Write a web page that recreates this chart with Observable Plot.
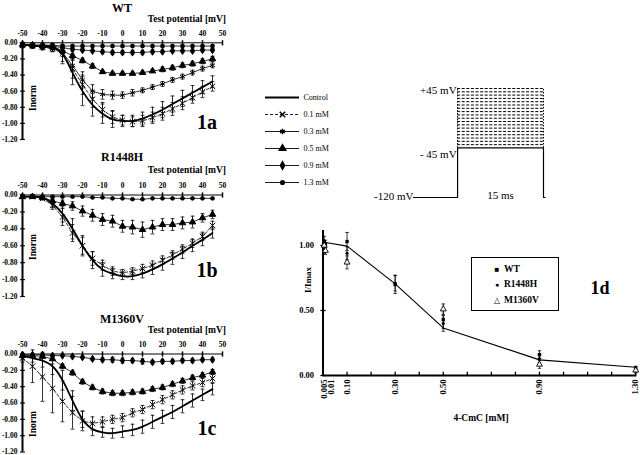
<!DOCTYPE html>
<html><head><meta charset="utf-8">
<script src="https://cdn.jsdelivr.net/npm/d3@7"></script>
<script src="https://cdn.jsdelivr.net/npm/@observablehq/plot@0.6"></script>
<style>
body{margin:0;background:#fff;}
#fig{position:relative;width:640px;height:455px;overflow:hidden;font-family:"Liberation Serif",serif;color:#000;background:#fff;}
#fig svg{position:absolute;overflow:visible;}
.t{position:absolute;white-space:nowrap;line-height:1;}
</style></head><body><div id="fig"></div>
<script>
// ---------- data ----------
const voltages = [-50,-45,-40,-35,-30,-25,-20,-15,-10,-5,0,5,10,15,20,25,30,35,40,45];
const xTicks = [-50,-40,-30,-20,-10,0,10,20,30,40,50];
const yTicks = [0,-0.2,-0.4,-0.6,-0.8,-1.0,-1.2];

// WT (1a)
const wtControl   = [-0.03,-0.03,-0.04,-0.05,-0.14,-0.37,-0.60,-0.77,-0.88,-0.95,-0.97,-0.97,-0.94,-0.89,-0.83,-0.76,-0.69,-0.62,-0.55,-0.48];
const wtControlSE = [0.03,0.03,0.04,0.04,0.12,0.15,0.18,0.14,0.12,0.10,0.07,0.07,0.08,0.09,0.10,0.10,0.10,0.09,0.08,0.07];
const wt01   = [-0.03,-0.04,-0.05,-0.07,-0.13,-0.32,-0.52,-0.70,-0.83,-0.92,-0.96,-0.98,-0.97,-0.93,-0.88,-0.82,-0.75,-0.68,-0.61,-0.54];
const wt01SE = [0.03,0.03,0.04,0.04,0.10,0.12,0.12,0.10,0.09,0.08,0.06,0.06,0.07,0.07,0.08,0.08,0.08,0.07,0.07,0.06];
const wt03   = [-0.03,-0.04,-0.05,-0.07,-0.12,-0.28,-0.46,-0.60,-0.64,-0.65,-0.65,-0.62,-0.59,-0.55,-0.51,-0.46,-0.42,-0.37,-0.32,-0.28];
const wt03SE = [0.02,0.02,0.03,0.04,0.05,0.08,0.10,0.08,0.06,0.05,0.04,0.04,0.03,0.03,0.03,0.03,0.03,0.03,0.03,0.03];
const wt05   = [-0.02,-0.03,-0.04,-0.05,-0.10,-0.16,-0.22,-0.29,-0.36,-0.38,-0.38,-0.38,-0.37,-0.35,-0.33,-0.31,-0.28,-0.26,-0.23,-0.20];
const wt05SE = [0.02,0.02,0.02,0.02,0.03,0.03,0.03,0.03,0.02,0.02,0.02,0.02,0.02,0.02,0.03,0.03,0.03,0.03,0.03,0.03];
const wt09   = [-0.03,-0.03,-0.04,-0.04,-0.06,-0.08,-0.09,-0.10,-0.11,-0.12,-0.12,-0.12,-0.12,-0.11,-0.11,-0.10,-0.10,-0.10,-0.09,-0.09];
const wt09SE = [0.02,0.02,0.02,0.02,0.02,0.02,0.02,0.02,0.02,0.02,0.02,0.02,0.02,0.02,0.02,0.02,0.02,0.02,0.02,0.02];
const wt13   = [-0.03,-0.03,-0.03,-0.03,-0.04,-0.04,-0.04,-0.04,-0.04,-0.04,-0.04,-0.04,-0.04,-0.04,-0.04,-0.04,-0.04,-0.04,-0.04,-0.04];
const wt13SE = [0.02,0.02,0.02,0.02,0.02,0.02,0.02,0.02,0.02,0.02,0.02,0.02,0.02,0.02,0.02,0.02,0.02,0.02,0.02,0.02];

// R1448H (1b)
const rControl   = [-0.02,-0.02,-0.03,-0.10,-0.22,-0.40,-0.60,-0.77,-0.88,-0.93,-0.96,-0.96,-0.93,-0.88,-0.82,-0.75,-0.68,-0.60,-0.53,-0.45];
const rControlSE = [0.02,0.02,0.02,0.05,0.10,0.12,0.12,0.10,0.08,0.06,0.04,0.04,0.05,0.06,0.07,0.07,0.07,0.07,0.07,0.06];
const r01   = [-0.02,-0.02,-0.04,-0.12,-0.26,-0.45,-0.60,-0.75,-0.83,-0.90,-0.92,-0.90,-0.87,-0.83,-0.77,-0.71,-0.64,-0.57,-0.49,-0.36];
const r01SE = [0.02,0.02,0.02,0.05,0.10,0.10,0.10,0.08,0.06,0.05,0.04,0.04,0.05,0.05,0.05,0.05,0.05,0.05,0.05,0.05];
const r05   = [-0.02,-0.02,-0.03,-0.07,-0.10,-0.13,-0.19,-0.24,-0.29,-0.31,-0.37,-0.38,-0.41,-0.38,-0.35,-0.35,-0.33,-0.32,-0.27,-0.23];
const r05SE = [0.01,0.01,0.02,0.03,0.04,0.05,0.06,0.07,0.07,0.07,0.07,0.08,0.09,0.08,0.07,0.07,0.07,0.07,0.05,0.05];
const r13   = [-0.02,-0.02,-0.02,-0.02,-0.02,-0.02,-0.02,-0.03,-0.03,-0.04,-0.04,-0.05,-0.05,-0.04,-0.04,-0.04,-0.04,-0.04,-0.04,-0.04];
const r13SE = [0.01,0.01,0.01,0.01,0.01,0.01,0.01,0.01,0.01,0.01,0.01,0.01,0.01,0.01,0.01,0.01,0.01,0.01,0.01,0.01];

// M1360V (1c)
const mControl   = [-0.02,-0.05,-0.08,-0.15,-0.32,-0.57,-0.80,-0.92,-0.96,-0.97,-0.95,-0.93,-0.89,-0.83,-0.77,-0.71,-0.64,-0.57,-0.50,-0.43];
const mControlSE = [0.03,0.05,0.08,0.10,0.12,0.12,0.10,0.08,0.06,0.06,0.07,0.07,0.08,0.08,0.08,0.08,0.08,0.08,0.07,0.07];
const m01   = [-0.05,-0.15,-0.28,-0.42,-0.58,-0.72,-0.82,-0.85,-0.83,-0.80,-0.78,-0.72,-0.68,-0.62,-0.56,-0.50,-0.44,-0.39,-0.35,-0.30];
const m01SE = [0.05,0.20,0.30,0.30,0.25,0.20,0.12,0.08,0.06,0.05,0.05,0.05,0.05,0.05,0.05,0.05,0.05,0.05,0.05,0.05];
const m05   = [-0.02,-0.02,-0.03,-0.06,-0.15,-0.23,-0.34,-0.41,-0.46,-0.48,-0.48,-0.47,-0.46,-0.43,-0.41,-0.37,-0.33,-0.29,-0.26,-0.22];
const m05SE = [0.01,0.01,0.02,0.02,0.03,0.03,0.03,0.03,0.03,0.03,0.03,0.03,0.03,0.03,0.03,0.03,0.03,0.03,0.03,0.03];
const m09   = [-0.01,-0.01,-0.01,-0.02,-0.02,-0.03,-0.04,-0.06,-0.07,-0.07,-0.08,-0.08,-0.09,-0.10,-0.09,-0.09,-0.08,-0.08,-0.07,-0.07];
const m09SE = [0.01,0.01,0.01,0.01,0.01,0.01,0.01,0.02,0.02,0.03,0.03,0.02,0.03,0.02,0.02,0.02,0.02,0.02,0.02,0.02];

// legend
const legendLabels = ["Control","0.1 mM","0.3 mM","0.5 mM","0.9 mM","1.3 mM"];

// protocol
const holdTime = [-7.7, 0, 0, 15, 15, 15.3];
const holdV    = [-120, -120, -45, -45, -120, -120];
const stepLevels = [-40,-35,-30,-25,-20,-15,-10,-5,0,5,10,15,20,25,30,35,40,45];
const pulseDuration = 15;

// dose-response (1d)
const conc  = [0.005, 0.01, 0.1, 0.3, 0.5, 0.9, 1.3];
const fitConc = [0.005, 0.1, 0.3, 0.5, 0.9, 1.3];
const fitI    = [1.025, 0.995, 0.705, 0.366, 0.12, 0.064];
const wtI  = [1.03, 1.01, 1.03, 0.70, 0.43, 0.16, 0.05];
const wtSE = [0.04, 0.03, 0.07, 0.07, 0.07, 0.03, 0.02];
const rI   = [0.97, 0.99, 0.94, 0.71, 0.40, 0.13, 0.05];
const rSE  = [0.03, 0.03, 0.05, 0.06, 0.06, 0.03, 0.02];
const mI   = [1.00, 0.96, 0.87, null, 0.51, 0.085, 0.04];
const mSE  = [0.04, 0.03, 0.05, null, 0.04, 0.03, 0.02];
const concTickLabels = ["0.005","0.01","0.10","0.30","0.50","0.90","1.30"];
const concMinor = [0.1,0.2,0.3,0.4,0.5,0.6,0.7,0.8,0.9,1.0,1.1,1.2,1.3];
const iTicks = [0, 0.5, 1.0];

// ---------- helpers ----------
const fig = document.getElementById("fig");
const vBar = {draw(ctx, size){const r=Math.sqrt(size/Math.PI); ctx.moveTo(0,-r); ctx.lineTo(0,r);}};
const hBar = {draw(ctx, size){const r=Math.sqrt(size/Math.PI); ctx.moveTo(-r,0); ctx.lineTo(r,0);}};

function place(svg, left, top){ svg.style.left = left+"px"; svg.style.top = top+"px"; fig.appendChild(svg); }
function label(text, x, y, {size=9, bold=true, anchor="middle"}={}){
  const d = document.createElement("div");
  d.className = "t"; d.textContent = text;
  d.style.fontSize = size+"px"; d.style.fontWeight = bold?"bold":"normal";
  d.style.left = x+"px"; d.style.top = y+"px";
  const tx = anchor==="middle"?"-50%":anchor==="end"?"-100%":"0";
  d.style.transform = `translate(${tx},-50%)`;
  fig.appendChild(d);
  return d;
}
function rlabel(text, cx, cy, size){
  const d = document.createElement("div");
  d.className="t"; d.textContent=text; d.style.fontSize=size+"px"; d.style.fontWeight="bold";
  d.style.left=cx+"px"; d.style.top=cy+"px";
  d.style.transform="translate(-50%,-50%) rotate(-90deg)";
  fig.appendChild(d);
}

const styles = {
  "Control": {curve:"natural", width:1.8, dash:null, symbol:null},
  "0.1 mM": {curve:"linear", width:0.8, dash:"3,2", symbol:"times", r:2.6, fill:"none"},
  "0.3 mM": {curve:"linear", width:0.8, dash:null, symbol:"asterisk", r:2.6, fill:"none"},
  "0.5 mM": {curve:"linear", width:0.8, dash:null, symbol:"triangle", r:2.4, fill:"black"},
  "0.9 mM": {curve:"linear", width:0.8, dash:null, symbol:"diamond", r:2.2, fill:"black"},
  "1.3 mM": {curve:"linear", width:0.8, dash:null, symbol:"circle", r:1.8, fill:"black"}
};

function ivPanel({top, marginTop, marginBottom, series}){
  const height = 150;
  const marks = [
    Plot.ruleY([0], {stroke:"black", strokeWidth:1}),
    Plot.ruleX([-50], {y1:-1.2, y2:0, stroke:"black", strokeWidth:2}),
    Plot.dot(xTicks, {x:d=>d, y:0, symbol:vBar, r:2.6, stroke:"black", fill:"none"}),
    Plot.dot(yTicks, {x:-50, y:d=>d, symbol:hBar, r:2.4, stroke:"black", fill:"none", strokeWidth:1.2}),
    Plot.axisX({anchor:"top", ticks:xTicks, tickSize:0, tickPadding:7, label:null, tickFormat:d=>String(d), fill:"black"}),
    Plot.axisY({anchor:"left", ticks:yTicks, tickSize:0, tickPadding:5, label:null, tickFormat:d=>d.toFixed(2), fill:"black"})
  ];
  for (const s of series){
    const st = styles[s.name];
    const data = voltages.map((v,i)=>({v, y:s.values[i], e:s.se[i]}));
    marks.push(Plot.ruleX(data, {x:"v", y1:d=>d.y-d.e, y2:d=>d.y+d.e, stroke:"black", strokeWidth:0.8}));
    marks.push(Plot.dot(data, {x:"v", y:d=>d.y-d.e, symbol:hBar, r:1.9, stroke:"black", fill:"none", strokeWidth:0.8}));
    marks.push(Plot.dot(data, {x:"v", y:d=>d.y+d.e, symbol:hBar, r:1.9, stroke:"black", fill:"none", strokeWidth:0.8}));
    marks.push(Plot.line(data, {x:"v", y:"y", curve:st.curve, stroke:"black", strokeWidth:st.width, strokeDasharray:st.dash}));
    if (st.symbol) marks.push(Plot.dot(data, {x:"v", y:"y", symbol:st.symbol, r:st.r, fill:st.fill, stroke:"black", strokeWidth:1}));
  }
  const svg = Plot.plot({
    width:232, height, marginLeft:22, marginRight:10, marginTop, marginBottom,
    x:{domain:[-50,50]}, y:{domain:[-1.2,0]},
    style:{fontFamily:"Liberation Serif", fontSize:"7.5px", fontWeight:"bold", background:"none", color:"black"},
    marks
  });
  place(svg, 0, top);
}

// ---------- panels 1a-1c ----------
ivPanel({top:0, marginTop:42.3, marginBottom:11, series:[
  {name:"Control", values:wtControl, se:wtControlSE},
  {name:"0.1 mM", values:wt01, se:wt01SE},
  {name:"0.3 mM", values:wt03, se:wt03SE},
  {name:"0.5 mM", values:wt05, se:wt05SE},
  {name:"0.9 mM", values:wt09, se:wt09SE},
  {name:"1.3 mM", values:wt13, se:wt13SE}
]});
ivPanel({top:150, marginTop:44.5, marginBottom:4, series:[
  {name:"Control", values:rControl, se:rControlSE},
  {name:"0.1 mM", values:r01, se:r01SE},
  {name:"0.5 mM", values:r05, se:r05SE},
  {name:"1.3 mM", values:r13, se:r13SE}
]});
ivPanel({top:305, marginTop:48.5, marginBottom:3.5, series:[
  {name:"Control", values:mControl, se:mControlSE},
  {name:"0.1 mM", values:m01, se:m01SE},
  {name:"0.5 mM", values:m05, se:m05SE},
  {name:"0.9 mM", values:m09, se:m09SE}
]});

label("WT", 122, 8, {size:12});
label("R1448H", 122, 157, {size:12});
label("M1360V", 122, 319, {size:12});
for (const y of [20, 171, 331]) label("Test potential [mV]", 226, y, {size:9.5, anchor:"end"});
for (const y of [98, 247, 424]) rlabel("Inorm", 34, y, 9.5);
label("1a", 207, 122, {size:20});
label("1b", 207, 270, {size:20});
label("1c", 207, 428, {size:20});

// ---------- legend ----------
{
  const marks = [];
  for (const name of legendLabels){
    const st = styles[name];
    marks.push(Plot.ruleY([name], {x1:0, x2:1, stroke:"black", strokeWidth:name==="Control"?1.8:0.9, strokeDasharray:st.dash}));
    if (st.symbol) marks.push(Plot.dot([name], {x:0.5, y:d=>d, symbol:st.symbol, r:st.r, fill:st.fill, stroke:"black"}));
  }
  marks.push(Plot.text(legendLabels, {x:1, y:d=>d, text:d=>d, textAnchor:"start", dx:4, fontSize:8, fill:"black"}));
  const svg = Plot.plot({
    width:100, height:122, marginLeft:7, marginRight:59, marginTop:10, marginBottom:10,
    x:{domain:[0,1], axis:null}, y:{type:"point", domain:legendLabels, axis:null},
    style:{fontFamily:"Liberation Serif", background:"none", color:"black"},
    marks
  });
  place(svg, 258, 78);
}

// ---------- protocol ----------
{
  const hold = holdTime.map((t,i)=>({t, v:holdV[i]}));
  const svg = Plot.plot({
    width:200, height:140, marginLeft:58, marginRight:10.3, marginTop:18, marginBottom:13,
    x:{domain:[-7.7,15.3], axis:null},
    y:{domain:[-120,45], axis:null},
    style:{fontFamily:"Liberation Serif", fontSize:"11px", background:"none", color:"black"},
    marks:[
      Plot.ruleY(stepLevels, {x1:0, x2:pulseDuration, stroke:"black", strokeWidth:1, strokeDasharray:"3,1.6"}),
      Plot.ruleX([0, pulseDuration], {y1:-45, y2:45, stroke:"black", strokeWidth:1, strokeDasharray:"1.5,1.5"}),
      Plot.line(hold, {x:"t", y:"v", stroke:"black", strokeWidth:1.2}),
      Plot.text([45], {x:0, y:d=>d, text:d=>"+"+d+" mV", textAnchor:"end", dx:-1, dy:2, fontSize:11, fill:"black"}),
      Plot.text([-45], {x:0, y:d=>d, text:d=>"- "+Math.abs(d)+" mV", textAnchor:"end", dx:-1, dy:7, fontSize:11, fill:"black"}),
      Plot.text([-120], {x:-7.7, y:d=>d, text:d=>d+" mV", textAnchor:"end", dx:0, dy:-1, fontSize:11, fill:"black"}),
      Plot.text([pulseDuration], {x:d=>d/2, y:-120, text:d=>d+" ms", dy:-2, fontSize:11, fill:"black"})
    ]
  });
  place(svg, 355, 70);
}

// ---------- 1d ----------
{
  const rows = (vals, se, group) => conc.map((c,i)=>({c, y:vals[i], e:se[i], group})).filter(d=>d.y!=null);
  const wt = rows(wtI, wtSE, "WT"), r = rows(rI, rSE, "R1448H"), m = rows(mI, mSE, "M1360V");
  const all = [...wt, ...r, ...m];
  const fit = fitConc.map((c,i)=>({c, y:fitI[i]}));
  const labelData = conc.map((c,i)=>({c, label:concTickLabels[i]}));
  const svg = Plot.plot({
    width:350, height:210, marginLeft:32.5, marginRight:3.6, marginTop:15, marginBottom:50,
    x:{domain:[0,1.305], axis:null}, y:{domain:[0,1.115], axis:null},
    style:{fontFamily:"Liberation Serif", fontSize:"8.5px", fontWeight:"bold", background:"none", color:"black"},
    marks:[
      Plot.ruleX([0], {y1:0, y2:1.115, stroke:"black", strokeWidth:2}),
      Plot.ruleY([0], {x1:0, x2:1.305, stroke:"black", strokeWidth:2}),
      Plot.dot(iTicks, {x:0, y:d=>d, symbol:hBar, r:2.6, stroke:"black", strokeWidth:1.3}),
      Plot.dot(concMinor, {x:d=>d, y:0, dy:-2, symbol:vBar, r:1.8, stroke:"black", strokeWidth:1.3}),
      Plot.text(iTicks, {x:0, y:d=>d, text:d=>d.toFixed(2), textAnchor:"end", dx:-9, fontSize:8.5, fill:"black"}),
      Plot.text(labelData.filter(d=>d.label!=="0.01"), {x:"c", y:0, text:"label", rotate:-90, textAnchor:"end", dy:4, fontSize:8.5, fill:"black"}),
      Plot.text(labelData.filter(d=>d.label==="0.01"), {x:"c", y:0, text:"label", rotate:-90, textAnchor:"end", dy:4, dx:6, fontSize:8.5, fill:"black"}),
      Plot.line(fit, {x:"c", y:"y", stroke:"black", strokeWidth:1.1}),
      Plot.ruleX(all, {x:"c", y1:d=>d.y-d.e, y2:d=>d.y+d.e, stroke:"black", strokeWidth:0.8}),
      Plot.dot(all, {x:"c", y:d=>d.y-d.e, symbol:hBar, r:1.7, stroke:"black", strokeWidth:0.8}),
      Plot.dot(all, {x:"c", y:d=>d.y+d.e, symbol:hBar, r:1.7, stroke:"black", strokeWidth:0.8}),
      Plot.dot(wt, {x:"c", y:"y", symbol:"square", r:1.9, fill:"black"}),
      Plot.dot(r, {x:"c", y:"y", symbol:"circle", r:1.6, fill:"black"}),
      Plot.dot(m, {x:"c", y:"y", symbol:"triangle", r:2.2, fill:"white", stroke:"black", strokeWidth:0.9})
    ]
  });
  place(svg, 290, 215);
  rlabel("I/Imax", 308, 280, 9);
  label("4-CmC [mM]", 481, 419, {size:9.5});
  label("1d", 600, 288, {size:18});
  // legend box
  const box = document.createElement("div");
  box.style.cssText = "position:absolute;left:471px;top:257px;width:86px;height:52px;border:1px solid #000;";
  fig.appendChild(box);
  const legendRows = [["■","WT",270,8],["●","R1448H",284.5,7],["△","M1360V",300.5,8]];
  for (const [sym, txt, y, s] of legendRows){
    label(sym, 497, y, {size:s, anchor:"middle", bold:false});
    label(txt, 504, y, {size:9.5, anchor:"start"});
  }
}
</script></body></html>
